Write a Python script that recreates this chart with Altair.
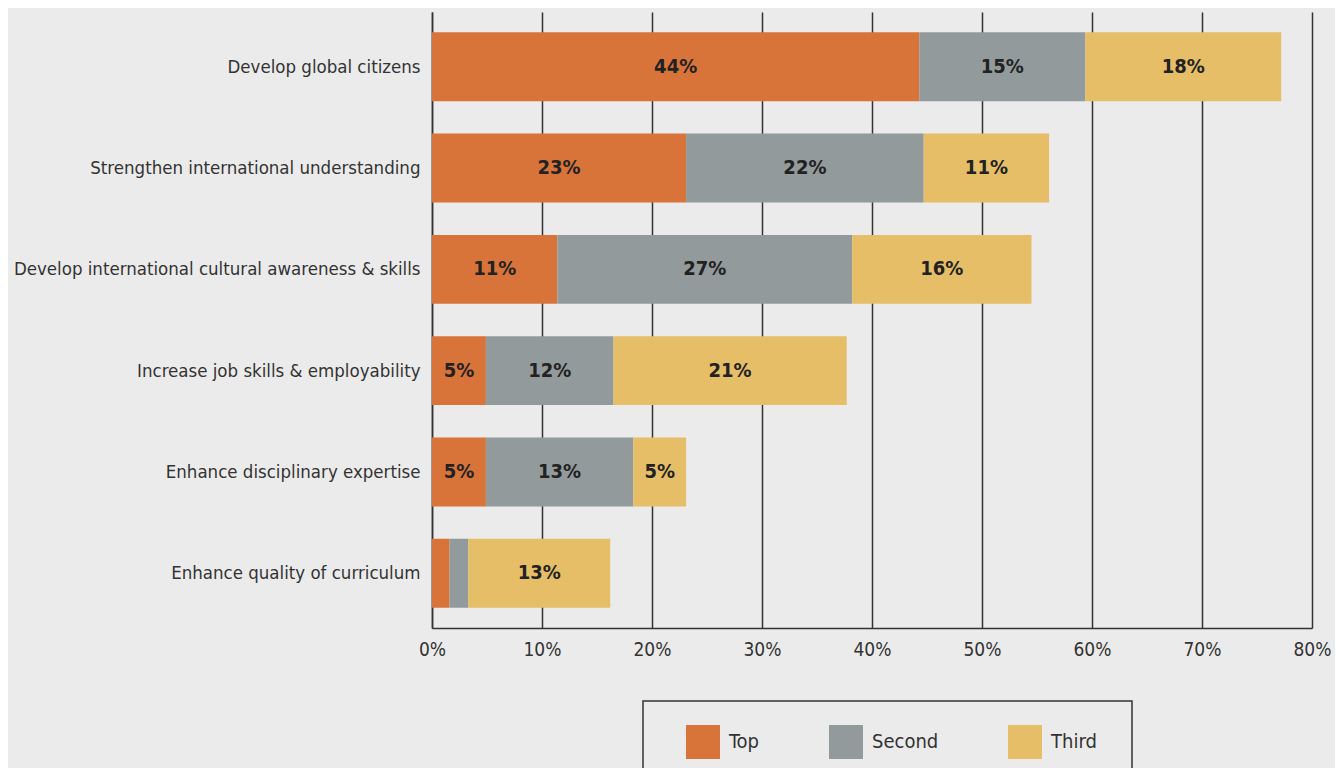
import altair as alt
import pandas as pd

categories = [
    "Develop global citizens",
    "Strengthen international understanding",
    "Develop international cultural awareness & skills",
    "Increase job skills & employability",
    "Enhance disciplinary expertise",
    "Enhance quality of curriculum",
]
series = ["Top", "Second", "Third"]
top_vals = [44.3, 23.1, 11.4, 4.9, 4.9, 1.6]
second_vals = [15.1, 21.6, 26.8, 11.6, 13.4, 1.7]
third_vals = [17.8, 11.4, 16.3, 21.2, 4.8, 12.9]
colors = ["#D8743A", "#939A9B", "#E6BE68"]
x_ticks = [0, 10, 20, 30, 40, 50, 60, 70, 80]

rows = []
for i, c in enumerate(categories):
    for j, (s, vals) in enumerate(zip(series, [top_vals, second_vals, third_vals])):
        rows.append({"category": c, "series": s, "order": j, "value": vals[i]})
df = pd.DataFrame(rows)

FONT = "DejaVu Sans Condensed, sans-serif"

base = alt.Chart(df).transform_stack(
    stack="value", groupby=["category"], as_=["x0", "x1"],
    sort=[alt.SortField("order", order="ascending")]
)

y_enc = alt.Y(
    "category:N", sort=categories, title=None,
    scale=alt.Scale(paddingInner=0.32, paddingOuter=0.2),
    axis=alt.Axis(labelFont=FONT, labelFontSize=18.5, labelColor="#333333",
                  ticks=False, domain=True, domainColor="#333333", domainWidth=1.5,
                  labelPadding=12, labelLimit=600),
)

bars = base.mark_bar().encode(
    x=alt.X("x0:Q", title=None,
            scale=alt.Scale(domain=[0, 80], nice=False),
            axis=alt.Axis(values=x_ticks, labelExpr="datum.value + '%'",
                          labelFont=FONT, labelFontSize=19, labelColor="#333333",
                          labelFlush=False,
                          ticks=False, labelPadding=12, grid=True,
                          gridColor="#333333", gridWidth=1.5,
                          domainColor="#333333", domainWidth=1.5)),
    x2="x1:Q",
    y=y_enc,
    color=alt.Color("series:N", sort=series,
                    scale=alt.Scale(domain=series, range=colors),
                    legend=alt.Legend(
                        title=None, orient="none", direction="horizontal",
                        legendX=254, legendY=713,
                        symbolType="square", symbolSize=1156,
                        symbolStrokeWidth=0, symbolOpacity=1,
                        labelFont=FONT, labelFontSize=20, labelColor="#333333",
                        labelOffset=9, columnPadding=69, padding=0)),
)

labels = base.transform_filter("datum.value >= 4").transform_calculate(
    mid="(datum.x0 + datum.x1) / 2",
    lab="format(round(datum.value), 'd') + '%'",
).mark_text(font=FONT, fontSize=20, fontWeight="bold", color="#222222").encode(
    x="mid:Q",
    y=alt.Y("category:N", sort=categories),
    text="lab:N",
)

frame = alt.Chart(pd.DataFrame({"k": [0]})).mark_rect(
    fill="none", stroke="#333333", strokeWidth=1.5
).encode(
    x=alt.value(211), x2=alt.value(700), y=alt.value(689), y2=alt.value(800)
)

chart = alt.layer(bars, labels, frame).properties(
    width=880, height=616,
    background="#ebebeb",
    autosize=alt.AutoSizeParams(type="none"),
    padding={"left": 424, "top": 4, "right": 23, "bottom": 140},
).configure_view(stroke=None)

chart.save("out.html", embed_options={"renderer": "svg", "actions": False})
